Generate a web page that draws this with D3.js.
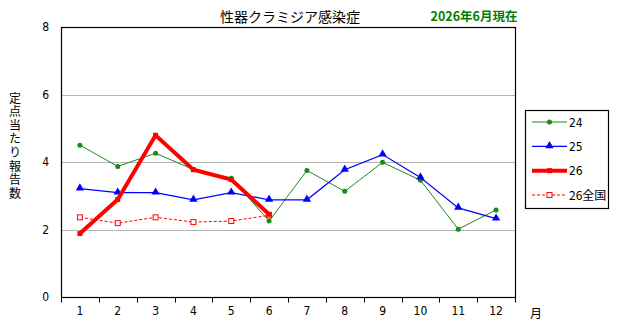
<!DOCTYPE html>
<html>
<head>
<meta charset="utf-8">
<script src="https://cdn.jsdelivr.net/npm/d3@7"></script>
<style>
    body { margin: 0; background: #fff; }
    text { font-family: "Liberation Sans Narrow", "DejaVu Sans Condensed", "Noto Sans CJK JP", sans-serif; }
    .jp { font-family: "Noto Sans CJK JP", sans-serif; }
</style>
</head>
<body>
<svg id="chart"></svg>
<script>
const WIDTH = 617;
const HEIGHT = 328;

// months on the x axis
const months = ['1', '2', '3', '4', '5', '6', '7', '8', '9', '10', '11', '12'];
const yTicks = [0, 2, 4, 6, 8];
const gridTicks = [2, 4, 6];

// reports per sentinel site
const series24 = [4.50, 3.87, 4.26, 3.78, 3.52, 2.25, 3.75, 3.13, 3.99, 3.46, 2.01, 2.58];
const series25 = [3.21, 3.09, 3.09, 2.88, 3.09, 2.88, 2.88, 3.77, 4.22, 3.54, 2.64, 2.32];
const series26 = [1.88, 2.89, 4.79, 3.77, 3.48, 2.45];
const series26nat = [2.36, 2.19, 2.36, 2.22, 2.25, 2.42];

const seriesNames = ['24', '25', '26', '26全国'];

const margin = { left: 61, right: 102, top: 27, bottom: 31 };

function makeChart() {
    let svg = d3.select('#chart')
        .attr('width', WIDTH)
        .attr('height', HEIGHT);

    let x = d3.scaleBand()
        .domain(months)
        .range([margin.left, WIDTH - margin.right]);
    let y = d3.scaleLinear()
        .domain([0, 8])
        .range([HEIGHT - margin.bottom, margin.top]);

    // gray gridlines
    svg.append('g')
        .selectAll('line')
        .data(gridTicks)
        .enter().append('line')
        .attr('x1', margin.left)
        .attr('x2', WIDTH - margin.right)
        .attr('y1', d => Math.round(y(d)) + 0.5)
        .attr('y2', d => Math.round(y(d)) + 0.5)
        .style('stroke', '#b4b4b4')
        .style('stroke-width', 1);

    // plot frame
    svg.append('rect')
        .attr('x', margin.left + 0.5)
        .attr('y', margin.top + 0.5)
        .attr('width', WIDTH - margin.right - margin.left)
        .attr('height', HEIGHT - margin.bottom - margin.top)
        .style('fill', 'none')
        .style('stroke', '#000')
        .style('stroke-width', 1.2);

    // x axis: ticks at band edges, labels in band centres
    let xAxis = d3.axisBottom(x).tickSize(0).tickPadding(9);
    let gx = svg.append('g')
        .attr('transform', `translate(0, ${HEIGHT - margin.bottom + 0.5})`)
        .call(xAxis);
    gx.select('.domain').remove();
    gx.selectAll('text').style('font-size', '12px').style('fill', '#000');
    gx.selectAll('.edge')
        .data(d3.range(months.length + 1))
        .enter().append('line')
        .attr('class', 'edge')
        .attr('x1', i => Math.round(margin.left + i * x.step()) + 0.5)
        .attr('x2', i => Math.round(margin.left + i * x.step()) + 0.5)
        .attr('y1', 0)
        .attr('y2', 5)
        .style('stroke', '#000');

    // y axis labels
    let yAxis = d3.axisLeft(y).tickValues(yTicks).tickSize(0).tickPadding(12).tickFormat(d3.format('d'));
    let gy = svg.append('g')
        .attr('transform', `translate(${margin.left}, 0)`)
        .call(yAxis);
    gy.select('.domain').remove();
    gy.selectAll('text').style('font-size', '12px').style('fill', '#000');

    let cx = (d, i) => x(months[i]) + x.bandwidth() / 2;
    let line = d3.line().x(cx).y(d => y(d));

    // 24: green, small dots
    svg.append('path')
        .datum(series24)
        .attr('d', line)
        .style('fill', 'none')
        .style('stroke', '#1a8a1a')
        .style('stroke-width', 1);
    svg.selectAll('.dot24')
        .data(series24)
        .enter().append('circle')
        .attr('class', 'dot24')
        .attr('cx', cx)
        .attr('cy', d => y(d))
        .attr('r', 2.5)
        .style('fill', '#1a8a1a');

    // 25: blue, triangles
    svg.append('path')
        .datum(series25)
        .attr('d', line)
        .style('fill', 'none')
        .style('stroke', '#0000ff')
        .style('stroke-width', 1.2);
    let tri = d3.symbol().type(d3.symbolTriangle).size(30);
    svg.selectAll('.tri25')
        .data(series25)
        .enter().append('path')
        .attr('class', 'tri25')
        .attr('d', tri)
        .attr('transform', (d, i) => `translate(${cx(d, i)}, ${y(d) - 0.5})`)
        .style('fill', '#0000ff');

    // 26 national: dashed red, open squares
    svg.append('path')
        .datum(series26nat)
        .attr('d', line)
        .style('fill', 'none')
        .style('stroke', '#ff0000')
        .style('stroke-width', 1)
        .style('stroke-dasharray', '3,2');
    svg.selectAll('.sq26n')
        .data(series26nat)
        .enter().append('rect')
        .attr('class', 'sq26n')
        .attr('x', (d, i) => cx(d, i) - 2.5)
        .attr('y', d => y(d) - 2.5)
        .attr('width', 5)
        .attr('height', 5)
        .style('fill', '#fff')
        .style('stroke', '#ff0000')
        .style('stroke-width', 1);

    // 26: thick red
    svg.append('path')
        .datum(series26)
        .attr('d', line)
        .style('fill', 'none')
        .style('stroke', '#ff0000')
        .style('stroke-width', 4);
    svg.selectAll('.sq26')
        .data(series26)
        .enter().append('rect')
        .attr('class', 'sq26')
        .attr('x', (d, i) => cx(d, i) - 2.5)
        .attr('y', d => y(d) - 2.5)
        .attr('width', 5)
        .attr('height', 5)
        .style('fill', '#ff0000');

    // titles
    svg.append('text')
        .attr('class', 'jp')
        .attr('x', 290)
        .attr('y', 22)
        .attr('text-anchor', 'middle')
        .style('font-size', '14px')
        .text('性器クラミジア感染症');
    svg.append('text')
        .attr('class', 'jp')
        .attr('x', 474)
        .attr('y', 21)
        .attr('text-anchor', 'middle')
        .style('font-size', '12.5px')
        .style('font-weight', 'bold')
        .style('fill', '#008000')
        .text('2026年6月現在');

    // y title, written vertically as one text
    svg.append('text')
        .attr('class', 'jp')
        .attr('x', 15)
        .attr('y', 92)
        .style('writing-mode', 'vertical-rl')
        .style('text-orientation', 'upright')
        .style('letter-spacing', '1.6px')
        .style('font-size', '12px')
        .text('定点当たり報告数');

    svg.append('text')
        .attr('class', 'jp')
        .attr('x', 536)
        .attr('y', 318)
        .attr('text-anchor', 'middle')
        .style('font-size', '12px')
        .text('月');

    // legend
    let legend = svg.append('g');
    legend.append('rect')
        .attr('x', 525.5)
        .attr('y', 110.5)
        .attr('width', 83)
        .attr('height', 98)
        .style('fill', '#fff')
        .style('stroke', '#000')
        .style('stroke-width', 1.2);

    let legY = d3.scalePoint()
        .domain(seriesNames)
        .range([122, 195]);
    let legStyles = [
        { color: '#1a8a1a', width: 1, dash: null },
        { color: '#0000ff', width: 1.2, dash: null },
        { color: '#ff0000', width: 4, dash: null },
        { color: '#ff0000', width: 1, dash: '3,2' },
    ];
    seriesNames.forEach((name, i) => {
        let ly = legY(name);
        let s = legStyles[i];
        legend.append('line')
            .attr('x1', 532)
            .attr('x2', 567)
            .attr('y1', ly)
            .attr('y2', ly)
            .style('stroke', s.color)
            .style('stroke-width', s.width)
            .style('stroke-dasharray', s.dash);
        if (i == 0) {
            legend.append('circle').attr('cx', 549.5).attr('cy', ly).attr('r', 2.5).style('fill', s.color);
        } else if (i == 1) {
            legend.append('path').attr('d', tri).attr('transform', `translate(549.5, ${ly - 0.5})`).style('fill', s.color);
        } else if (i == 2) {
            legend.append('rect').attr('x', 547).attr('y', ly - 2.5).attr('width', 5).attr('height', 5).style('fill', s.color);
        } else {
            legend.append('rect').attr('x', 547).attr('y', ly - 2.5).attr('width', 5).attr('height', 5)
                .style('fill', '#fff').style('stroke', s.color);
        }
        legend.append('text')
            .attr('class', i == 3 ? 'jp' : null)
            .attr('x', 569)
            .attr('y', ly + 4.5)
            .style('font-size', '12px')
            .text(name);
    });
}

window.onload = makeChart;
</script>
</body>
</html>
